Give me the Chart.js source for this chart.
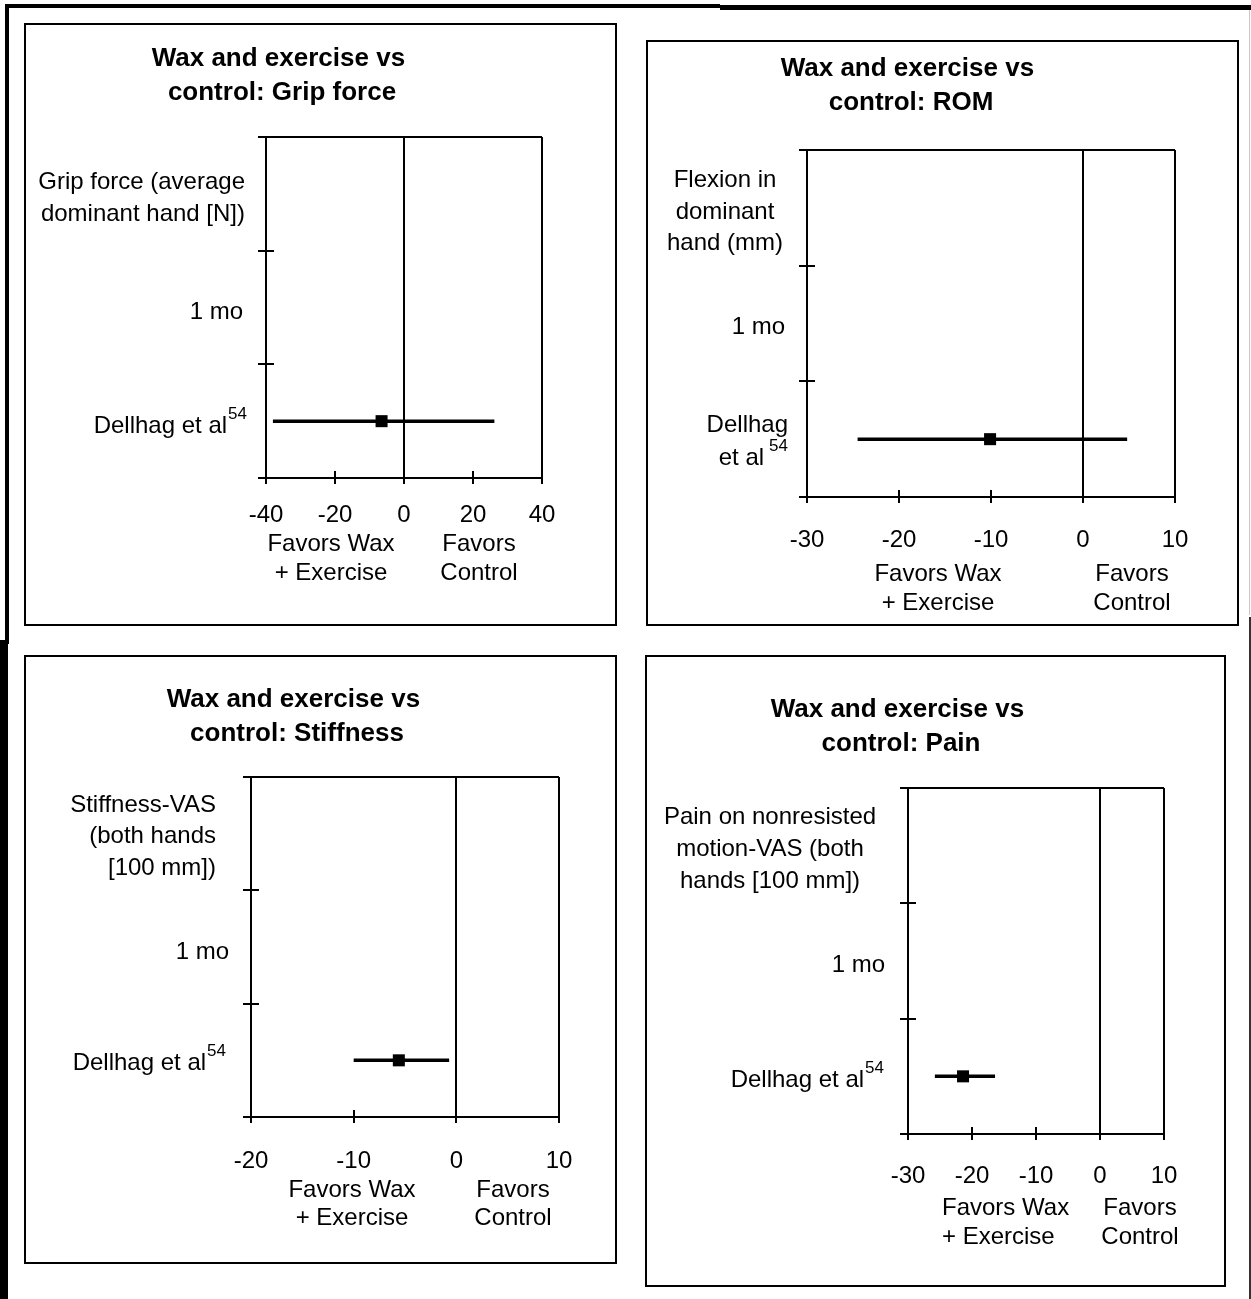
<!DOCTYPE html>
<html>
<head>
<meta charset="utf-8">
<title>Wax and exercise vs control</title>
<script src="https://cdn.jsdelivr.net/npm/chart.js@4.4.1/dist/chart.umd.min.js"></script>
<style>
  html, body { margin: 0; padding: 0; background: #fff; }
  #page { position: relative; width: 1251px; height: 1299px; overflow: hidden; background: #fff; }
  #page canvas { position: absolute; }
  .rule { position: absolute; background: #000; }
</style>
</head>
<body>
<div id="page">
  <div class="rule" style="left:5px;top:4px;width:4px;height:640px"></div>
  <div class="rule" style="left:0;top:640px;width:8px;height:659px"></div>
  <div class="rule" style="left:5px;top:4px;width:715px;height:4px"></div>
  <div class="rule" style="left:720px;top:5px;width:531px;height:5px"></div>
  <div class="rule" style="left:1249px;top:10px;width:1px;height:605px;background:#c8c8c8"></div>
  <div class="rule" style="left:1249px;top:617px;width:2px;height:682px;background:#333"></div>
</div>
<script>
// ---- data ----
const panelTitles = [
  ['Wax and exercise vs ', 'control: Grip force'],
  ['Wax and exercise vs ', 'control: ROM'],
  ['Wax and exercise vs ', 'control: Stiffness'],
  ['Wax and exercise vs ', 'control: Pain']
];
const outcomeLabels = [
  ['Grip force (average', 'dominant hand [N])'],
  ['Flexion in', 'dominant', 'hand (mm)'],
  ['Stiffness-VAS', '(both hands', '[100 mm])'],
  ['Pain on nonresisted', 'motion-VAS (both', 'hands [100 mm])']
];
const timepointLabel = '1 mo';
const studyLabels = [
  ['Dellhag et al'],
  ['Dellhag', 'et al'],
  ['Dellhag et al'],
  ['Dellhag et al']
];
const studyRef = '54';
const meanDiff = [-6.5, -10.1, -5.6, -21.4];
const ciLower  = [-38.0, -24.5, -10.0, -25.8];
const ciUpper  = [26.2, 4.8, -0.7, -16.4];
const axisMin  = [-40, -30, -20, -30];
const axisMax  = [40, 10, 10, 10];
const xTickValues = [
  [-40, -20, 0, 20, 40],
  [-30, -20, -10, 0, 10],
  [-20, -10, 0, 10],
  [-30, -20, -10, 0, 10]
];
const favorsLeft  = ['Favors Wax', '+ Exercise'];
const favorsRight = ['Favors', 'Control'];
const studyRow = 2;   // rows: 0 outcome, 1 time point, 2 study

// ---- layout (page pixels) ----
const layout = [
  { box: [24, 23, 593, 603], plot: [266, 137, 542, 478], tickY: 515,
    titleX: 282, titleY: [59, 93],
    head: { align: 'right', x: 245, y: [182, 214] },
    mid: { x: 243, y: 312 },
    study: { x: 247, y: [426], gap: 1 },
    favL: { align: 'center', x: 331, y: [544, 573] },
    favR: { x: 479, y: [544, 573] } },
  { box: [646, 40, 593, 586], plot: [807, 150, 1175, 497], tickY: 540,
    titleX: 911, titleY: [69, 103],
    head: { align: 'center', x: 725, y: [180, 212, 243] },
    mid: { x: 785, y: 327 },
    study: { x: 788, y: [425, 458], gap: 5 },
    favL: { align: 'center', x: 938, y: [574, 603] },
    favR: { x: 1132, y: [574, 603] } },
  { box: [24, 655, 593, 609], plot: [251, 777, 559, 1117], tickY: 1161,
    titleX: 297, titleY: [700, 734],
    head: { align: 'right', x: 216, y: [805, 836, 868] },
    mid: { x: 229, y: 952 },
    study: { x: 226, y: [1063], gap: 1 },
    favL: { align: 'center', x: 352, y: [1190, 1218] },
    favR: { x: 513, y: [1190, 1218] } },
  { box: [645, 655, 581, 632], plot: [908, 788, 1164, 1134], tickY: 1176,
    titleX: 901, titleY: [710, 744],
    head: { align: 'center', x: 770, y: [817, 849, 881] },
    mid: { x: 885, y: 965 },
    study: { x: 884, y: [1080], gap: 1 },
    favL: { align: 'left', x: 942, y: [1208, 1237] },
    favR: { x: 1140, y: [1208, 1237] } }
];

const FAMILY = "'Liberation Sans', Arial, Helvetica, sans-serif";
const TEXT_FONT = '24px ' + FAMILY;
const TITLE_FONT = 'bold 26px ' + FAMILY;
const SUP_FONT = '17px ' + FAMILY;
const X_AXIS_H = 60;

Chart.defaults.font.family = FAMILY;
Chart.defaults.color = '#000';

// frame, zero line and tick marks of each forest plot
const forestFrame = {
  id: 'forestFrame',
  beforeDatasetsDraw(chart) {
    const { ctx, chartArea: a, scales: { x, y } } = chart;
    const L = Math.round(a.left), R = Math.round(a.right);
    const T = Math.round(a.top), B = Math.round(a.bottom);
    ctx.save();
    ctx.strokeStyle = '#000';
    ctx.lineWidth = 2;
    ctx.beginPath();
    ctx.moveTo(L, T); ctx.lineTo(L, B + 6);
    ctx.moveTo(L - 8, T); ctx.lineTo(R, T);
    ctx.moveTo(L - 8, B); ctx.lineTo(R, B);
    ctx.moveTo(R, T); ctx.lineTo(R, B + 6);
    const x0 = Math.round(x.getPixelForValue(0));
    ctx.moveTo(x0, T); ctx.lineTo(x0, B + 6);
    [1, 2].forEach(v => {
      const py = Math.round(y.getPixelForValue(v));
      ctx.moveTo(L - 8, py); ctx.lineTo(L + 8, py);
    });
    x.ticks.forEach(t => {
      const px = Math.round(x.getPixelForValue(t.value));
      ctx.moveTo(px, B - 7); ctx.lineTo(px, B + 6);
    });
    ctx.stroke();
    ctx.restore();
  },
  afterDraw(chart) {
    const i = chart.options.plugins.forestFrame.index;
    const Lo = layout[i];
    const ox = Lo.box[0], oy = Lo.box[1];
    const ctx = chart.ctx;
    ctx.save();
    ctx.fillStyle = '#000';
    ctx.textBaseline = 'middle';

    const put = (lines, x, ys, align, font) => {
      ctx.font = font;
      ctx.textAlign = align;
      lines.forEach((s, k) => ctx.fillText(s, x - ox, ys[k] - oy));
    };

    put(panelTitles[i], Lo.titleX, Lo.titleY, 'center', TITLE_FONT);
    put(outcomeLabels[i], Lo.head.x, Lo.head.y, Lo.head.align, TEXT_FONT);
    put([timepointLabel], Lo.mid.x, [Lo.mid.y], 'right', TEXT_FONT);

    // study name with superscript reference
    ctx.font = SUP_FONT;
    const supW = ctx.measureText(studyRef).width;
    const lines = studyLabels[i];
    lines.forEach((s, k) => {
      const yy = Lo.study.y[k] - oy;
      ctx.font = TEXT_FONT;
      ctx.textAlign = 'right';
      if (k === lines.length - 1) {
        ctx.fillText(s, Lo.study.x - ox - supW - Lo.study.gap, yy);
        ctx.font = SUP_FONT;
        ctx.fillText(studyRef, Lo.study.x - ox, yy - 12);
      } else {
        ctx.fillText(s, Lo.study.x - ox, yy);
      }
    });

    put(favorsLeft, Lo.favL.x, Lo.favL.y, Lo.favL.align, TEXT_FONT);
    put(favorsRight, Lo.favR.x, Lo.favR.y, 'center', TEXT_FONT);

    // panel border
    ctx.strokeStyle = '#000';
    ctx.lineWidth = 2;
    ctx.strokeRect(1, 1, chart.width - 2, chart.height - 2);
    ctx.restore();
  }
};

const page = document.getElementById('page');

layout.forEach((Lo, i) => {
  const [bx, by, bw, bh] = Lo.box;
  const canvas = document.createElement('canvas');
  canvas.width = bw; canvas.height = bh;
  canvas.style.left = bx + 'px'; canvas.style.top = by + 'px';
  canvas.style.width = bw + 'px'; canvas.style.height = bh + 'px';
  page.appendChild(canvas);

  const padLeft = Lo.plot[0] - bx;
  const padTop = Lo.plot[1] - by;
  const padRight = bw - (Lo.plot[2] - bx);
  const padBottom = bh - (Lo.plot[3] - by) - X_AXIS_H;
  const tickPad = Lo.tickY - Lo.plot[3] - 24 * 1.2 / 2;
  const rowY = studyRow + 0.5;

  new Chart(canvas, {
    type: 'scatter',
    data: {
      datasets: [
        {
          label: 'CI',
          data: [{ x: ciLower[i], y: rowY }, { x: ciUpper[i], y: rowY }],
          showLine: true,
          borderColor: '#000',
          borderWidth: 3.5,
          borderCapStyle: 'butt',
          pointRadius: 0,
          pointHoverRadius: 0
        },
        {
          label: 'Mean difference',
          data: [{ x: meanDiff[i], y: rowY }],
          pointStyle: 'rect',
          pointRadius: 8.5,
          pointHoverRadius: 8.5,
          backgroundColor: '#000',
          borderColor: '#000',
          borderWidth: 0
        }
      ]
    },
    options: {
      responsive: false,
      animation: false,
      devicePixelRatio: 1,
      layout: { padding: { left: padLeft, right: padRight, top: padTop, bottom: padBottom } },
      events: [],
      scales: {
        x: {
          type: 'linear',
          position: 'bottom',
          min: axisMin[i],
          max: axisMax[i],
          afterBuildTicks: s => { s.ticks = xTickValues[i].map(v => ({ value: v })); },
          afterFit: s => { s.height = X_AXIS_H; },
          grid: { display: false, drawTicks: false },
          border: { display: false },
          ticks: {
            autoSkip: false,
            maxRotation: 0,
            padding: tickPad,
            color: '#000',
            font: { size: 24, family: FAMILY },
            callback: v => String(v)
          }
        },
        y: {
          type: 'linear',
          min: 0,
          max: 3,
          reverse: true,
          display: false
        }
      },
      plugins: {
        legend: { display: false },
        tooltip: { enabled: false },
        forestFrame: { index: i }
      }
    },
    plugins: [forestFrame]
  });
});
</script>
</body>
</html>
